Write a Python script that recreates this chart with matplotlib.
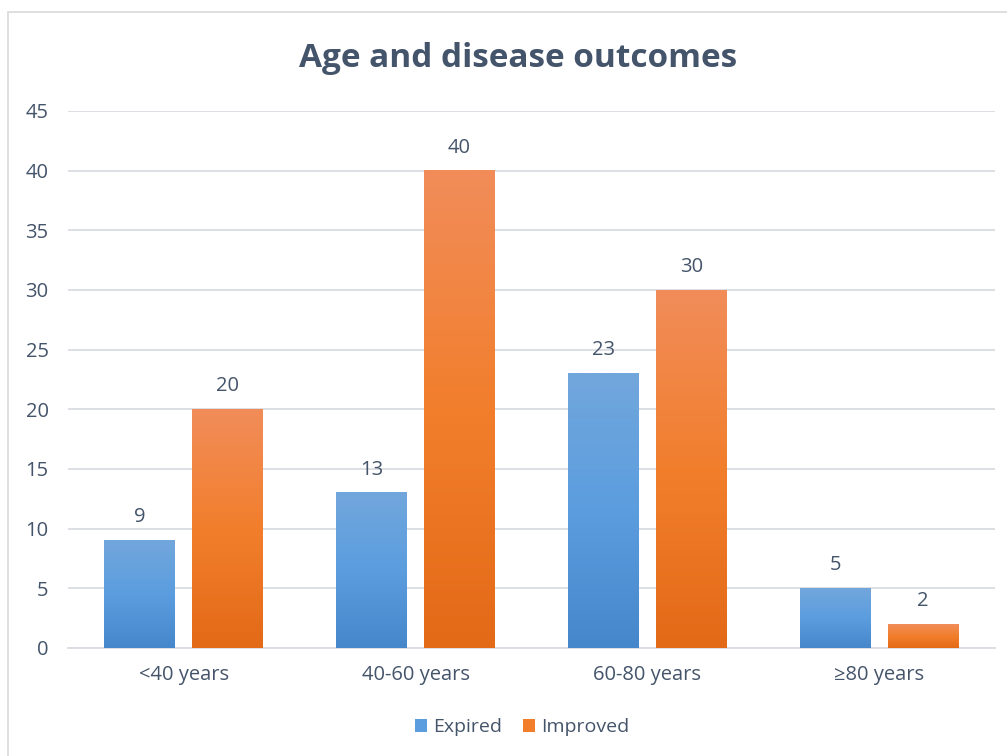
import numpy as np
import matplotlib
matplotlib.use("Agg")
import matplotlib.pyplot as plt
from matplotlib.patches import Rectangle
from matplotlib.colors import LinearSegmentedColormap

categories = ["<40 years", "40-60 years", "60-80 years", "≥80 years"]
expired = [9, 13, 23, 5]
improved = [20, 40, 30, 2]
series_names = ["Expired", "Improved"]

TEXT = "#44546a"
GRID = "#d9dde3"
FS = 14.5
plt.rcParams["font.family"] = ["Open Sans", "DejaVu Sans"]

blue_cm = LinearSegmentedColormap.from_list("blue", ["#4587ca", "#5b9ddf", "#72a7dc"])
orange_cm = LinearSegmentedColormap.from_list("orange", ["#e36a17", "#f27e2c", "#f18d5a"])

fig = plt.figure(figsize=(10.07, 7.56), dpi=100)
ax = fig.add_axes([0.0675, 0.1429, 0.9205, 0.7103])

# chart frame
fig.patches.append(Rectangle((8 / 1007, -0.05), 1.1, 1 - 12 / 756 + 0.05,
                             transform=fig.transFigure, fill=False,
                             edgecolor="#d9d9d9", linewidth=1.2))

x = np.arange(len(categories))
w = 0.306
off = 0.19
grad = np.linspace(0, 1, 256).reshape(-1, 1)


def gradient_bars(xs, vals, cmap, label):
    bars = ax.bar(xs, vals, w, color=cmap(0.5), label=label, zorder=2)
    for b, v in zip(bars, vals):
        x0 = b.get_x()
        ax.imshow(grad, cmap=cmap, origin="lower", aspect="auto",
                  extent=(x0, x0 + w, 0, v), zorder=3)
        ax.text(b.get_x() + w / 2, v + 1.1, str(v), ha="center", va="bottom",
                fontsize=FS, color=TEXT, zorder=4)
    return bars


gradient_bars(x - off, expired, blue_cm, series_names[0])
gradient_bars(x + off, improved, orange_cm, series_names[1])

ax.set_xlim(-0.5, len(categories) - 0.5)
ax.set_ylim(0, 45)
ax.set_yticks(np.arange(0, 46, 5))
ax.set_xticks(x)
ax.set_xticklabels(categories)
ax.tick_params(axis="both", length=0, labelsize=FS, labelcolor=TEXT)
ax.tick_params(axis="y", pad=14)
ax.tick_params(axis="x", pad=12)
ax.grid(axis="y", color=GRID, linewidth=1.3, zorder=0)
ax.set_axisbelow(True)
for s in ("left", "right", "top"):
    ax.spines[s].set_visible(False)
ax.spines["bottom"].set_color(GRID)
ax.spines["bottom"].set_linewidth(1.3)

fig.text(0.514, 0.922, "Age and disease outcomes", ha="center", va="center",
         fontsize=24, fontweight="bold", color=TEXT)

leg = ax.legend(loc="center", bbox_to_anchor=(0.49, -0.148), ncol=2,
                frameon=False, fontsize=14, handlelength=0.6,
                handleheight=0.6, handletextpad=0.3, columnspacing=1.1)
for t in leg.get_texts():
    t.set_color(TEXT)

fig.savefig("out.png", dpi=100)
